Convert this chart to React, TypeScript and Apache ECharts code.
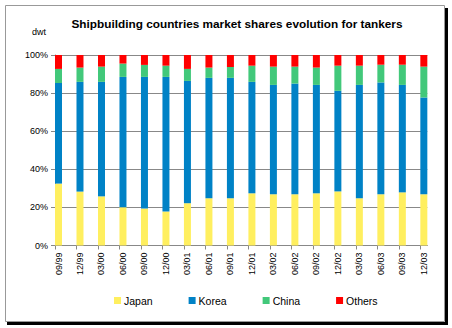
import React, { useEffect, useRef } from "react";
import * as echarts from "echarts";

const categories = ["09/99","12/99","03/00","06/00","09/00","12/00","03/01","06/01","09/01","12/01","03/02","06/02","09/02","12/02","03/03","06/03","09/03","12/03"];
const japan = [32.5,28.3,25.8,20.1,19.4,17.8,22.2,24.8,24.8,27.4,26.9,26.9,27.4,28.4,24.8,26.9,27.9,26.9];
const korea = [52.8,57.6,60.1,68.4,69.1,70.7,64.2,63.2,63.2,58.5,57.4,58.1,56.9,52.8,59.5,58.7,56.4,50.8];
const china = [7.4,7.5,8.0,7.0,6.3,5.9,6.3,5.4,5.7,8.5,9.6,8.9,9.1,13.2,10.1,9.3,10.6,16.2];
const others = [7.3,6.6,6.1,4.5,5.2,5.6,7.3,6.6,6.3,5.6,6.1,6.1,6.6,5.6,5.6,5.1,5.1,6.1];
const seriesNames = ["Japan","Korea","China","Others"];
const seriesColors = ["#FFEF5F","#0082C6","#42C87A","#FF0000"];
const yTickLabels = ["0%","20%","40%","60%","80%","100%"];

export default function App() {
  const ref = useRef<HTMLDivElement>(null);
  useEffect(() => {
    const chart = echarts.init(ref.current!, null, { renderer: "svg" });
    const font = "Liberation Sans, Arial, sans-serif";
    const values = [japan, korea, china, others];
    const top = 55;
    const height = 190.5;
    const step = 21.49;
    const span = step * (categories.length - 1);
    const grey = "#888";
    chart.setOption({
      animation: false,
      backgroundColor: "#ffffff",
      textStyle: { fontFamily: font },
      title: {
        text: "Shipbuilding countries market shares evolution for tankers",
        left: 232,
        top: 13,
        textAlign: "center",
        textStyle: { fontSize: 11.8, fontWeight: "bold", color: "#000", fontFamily: font },
      },
      legend: {
        data: seriesNames,
        left: 114,
        top: 295,
        padding: 0,
        itemWidth: 7,
        itemHeight: 7,
        itemGap: 36,
        icon: "rect",
        textStyle: { fontSize: 10.5, color: "#000", fontFamily: font, padding: [0, 0, 0, -2] },
      },
      grid: [
        { left: 55, top, width: span + 7, height },
        { left: 55 + 3.5, top, width: span, height },
        { left: 55, top, width: span, height },
      ],
      xAxis: [
        {
          gridIndex: 0, type: "category", data: categories, boundaryGap: false,
          axisLine: { show: true, lineStyle: { color: grey, width: 1 } },
          axisTick: { show: false }, axisLabel: { show: false }, splitLine: { show: false },
        },
        {
          gridIndex: 1, type: "category", data: categories, boundaryGap: false,
          axisLine: { show: false }, axisTick: { show: false }, splitLine: { show: false },
          axisLabel: { rotate: 90, fontSize: 9, color: "#000", margin: 7, fontFamily: font, interval: 0 },
        },
        {
          gridIndex: 2, type: "category", data: categories, boundaryGap: false,
          axisLine: { show: false }, axisLabel: { show: false }, splitLine: { show: false },
          axisTick: { show: true, length: 4, interval: 0, lineStyle: { color: grey } },
        },
      ],
      yAxis: [
        {
          gridIndex: 0, type: "value", min: 0, max: 100, interval: 20,
          axisLine: { show: true, lineStyle: { color: grey, width: 1 } },
          axisTick: { show: true, length: 4, lineStyle: { color: grey } },
          splitLine: { lineStyle: { color: grey, width: 1 } },
          axisLabel: {
            formatter: (v: number) => yTickLabels[Math.round(v / 20)],
            fontSize: 9, color: "#000", margin: 7, fontFamily: font,
          },
        },
        { gridIndex: 1, type: "value", min: 0, max: 100, show: false },
        { gridIndex: 2, type: "value", min: 0, max: 100, show: false },
      ],
      series: seriesNames.map((name, i) => ({
        name,
        type: "bar",
        stack: "total",
        xAxisIndex: 1,
        yAxisIndex: 1,
        data: values[i],
        barWidth: 7,
        clip: false,
        itemStyle: { color: seriesColors[i] },
      })),
      graphic: [
        { type: "rect", shape: { x: 5.5, y: 5.5, width: 439, height: 316 }, style: { fill: "none", stroke: "#999", lineWidth: 1 }, silent: true },
        { type: "rect", shape: { x: 445, y: 8, width: 3, height: 317 }, style: { fill: "#000" }, silent: true },
        { type: "rect", shape: { x: 7, y: 322, width: 441, height: 3 }, style: { fill: "#000" }, silent: true },
        { type: "text", x: 39, y: 32, style: { text: "dwt", fontSize: 9, fill: "#000", fontFamily: font, textAlign: "center", textVerticalAlign: "middle" }, silent: true },
      ],
    });
    return () => chart.dispose();
  }, []);
  return <div ref={ref} style={{ position: "absolute", left: 0, top: 0, width: 452, height: 328 }} />;
}
